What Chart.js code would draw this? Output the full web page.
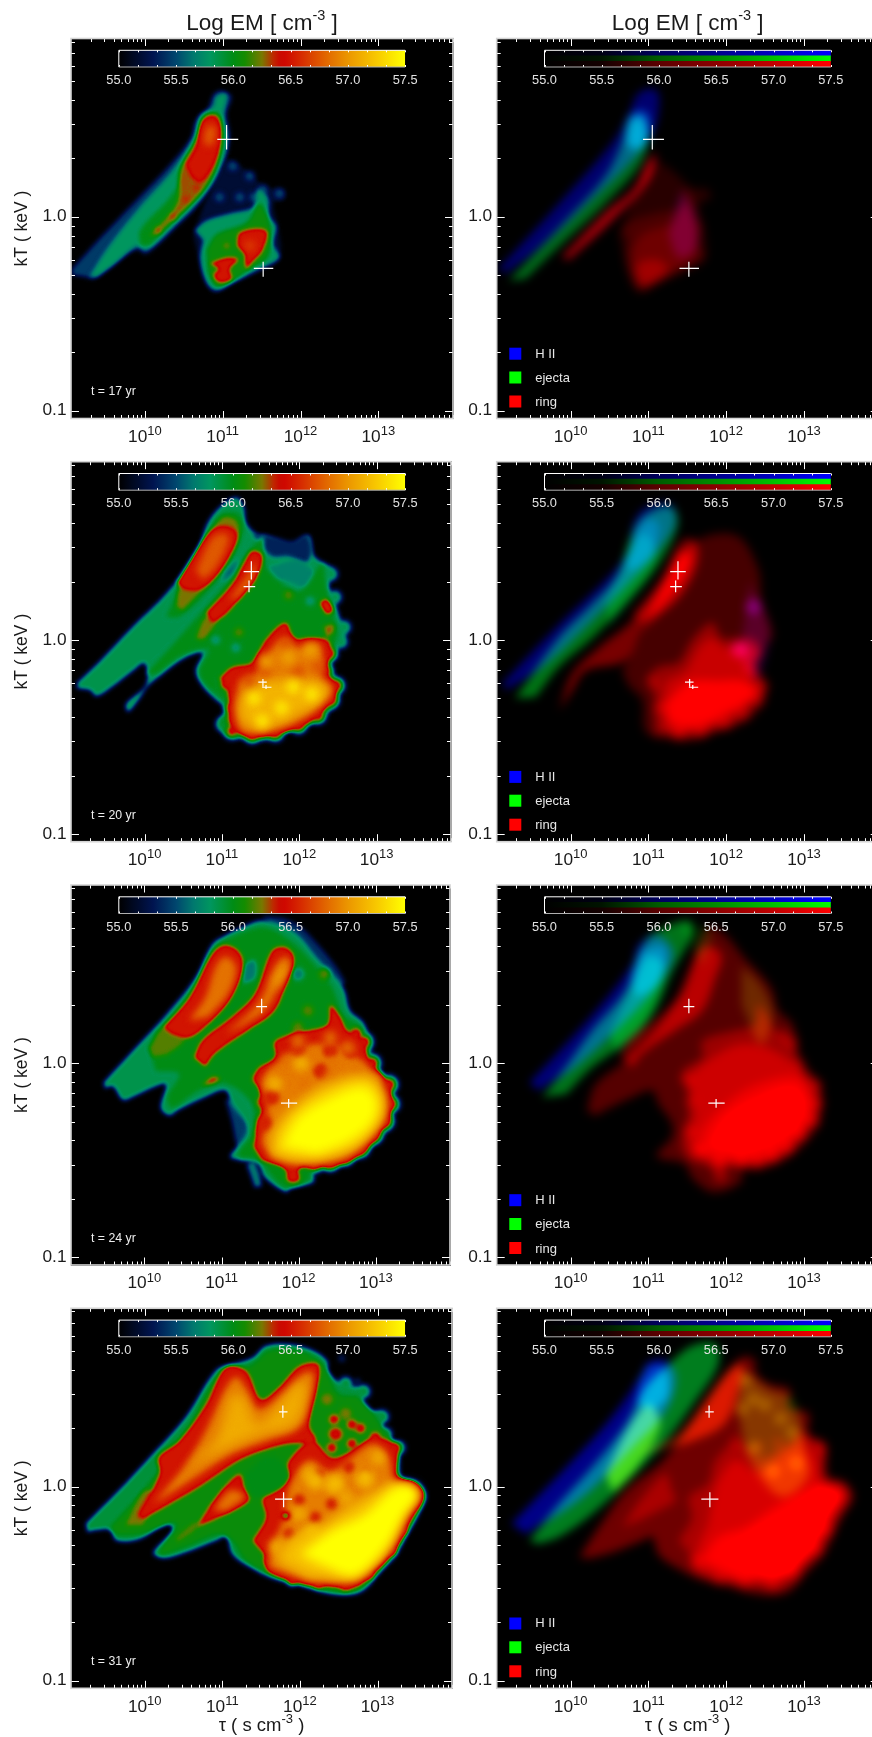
<!DOCTYPE html>
<html><head><meta charset="utf-8">
<style>html,body{margin:0;padding:0;background:#fff;overflow:hidden;width:872px;height:1737px}canvas{position:absolute}</style>
<script src="https://cdn.jsdelivr.net/npm/chart.js@4"></script>
</head><body>
<script>
// ---- axis data ----
const tauRangeExp=[9.05,13.96], kTRangeExp=[-1.04,0.9186];
const tauMajorExp=[10,11,12,13];
const kTMajor=[[0.1,'0.1'],[1,'1.0']];
const cbTicks=[55,55.5,56,56.5,57,57.5];
const cbRange=[55,57.5];
const titleParts=['Log EM [ cm','-3',' ]'];
const xTitleParts=['τ ( s cm','-3',' )'];
const yTitle='kT ( keV )';
const timeLabels=['t = 17 yr','t = 20 yr','t = 24 yr','t = 31 yr'];
const legendNames=['H II','ejecta','ring'];
const legendColors=['#0000ff','#00ff00','#ff0000'];
const emStops=[[55,0,0,0],[55.3,0,20,80],[55.5,0,70,110],[55.65,0,120,110],[55.8,0,150,95],[56,0,140,20],[56.1,20,140,0],[56.25,120,120,0],[56.35,190,40,0],[56.42,205,0,0],[56.6,215,45,0],[56.8,225,100,0],[57,235,150,0],[57.25,248,200,0],[57.5,255,255,0]];
const chanStops=[[55,0],[55.5,.08],[56,.36],[56.5,.55],[57,.76],[57.5,1]];

// ---- crosses: [tau centre, tau low, tau high, kT centre, kT low, kT high] (log10) ----
const crossA=[[11.05,10.93,11.20,.399,.347,.473],[11.52,11.40,11.65,-.266,-.309,-.232]];
const crossB=[[11.38,11.28,11.48,.352,.311,.405],[11.35,11.28,11.43,.275,.246,.306],[11.53,11.47,11.58,-.218,-.241,-.201],[11.57,11.52,11.64,-.244,-.253,-.232]];
const crossC=[[11.52,11.45,11.59,.292,.258,.332],[11.87,11.77,11.98,-.206,-.230,-.184]];
const crossD=[[11.78,11.73,11.84,.385,.354,.418],[11.79,11.68,11.90,-.065,-.107,-.029]];

// ---- 17 yr contours (log10 tau, log10 kT) ----
const A_sil=[[9.06,-.27],[9.42,-.11],[9.85,.07],[10.28,.25],[10.58,.40],[10.66,.50],[10.81,.56],[10.88,.63],[10.98,.65],[11.11,.62],[11.05,.53],[11.09,.43],[11.05,.31],[10.92,.19],[10.71,.07],[10.41,-.05],[10.02,-.19],[9.89,-.17],[9.55,-.26],[9.34,-.32],[9.21,-.31],[9.06,-.30]];
const A_teal=[[9.29,-.31],[9.51,-.17],[9.94,.05],[10.36,.24],[10.62,.40],[10.71,.52],[10.88,.57],[10.92,.62],[11.05,.63],[11.01,.52],[11.06,.40],[11.00,.29],[10.88,.18],[10.66,.07],[10.36,-.05],[10.02,-.17],[9.90,-.15],[9.59,-.25],[9.38,-.31]];
const A_green=[[9.94,-.15],[9.94,-.07],[10.32,.10],[10.60,.29],[10.68,.43],[10.75,.52],[10.96,.53],[11.01,.40],[10.96,.29],[10.79,.15],[10.49,.02],[10.06,-.15]];
const A_olive=[[10.06,-.10],[10.41,.07],[10.45,.24],[10.66,.40],[10.79,.52],[10.94,.52],[10.98,.40],[10.92,.27],[10.75,.14],[10.49,.03],[10.15,-.09]];
const A_red=[[10.53,.27],[10.66,.36],[10.75,.50],[10.92,.51],[10.97,.40],[10.88,.27],[10.71,.18],[10.60,.21]];
const A_orange=[[10.75,.40],[10.81,.47],[10.91,.46],[10.88,.38],[10.79,.36]];
const A_knots=[[10.36,.00],[10.53,.09],[10.17,-.07],[10.66,.15]];
const A_cloud0=[[10.79,.09],[11.05,.29],[11.30,.24],[11.56,.15],[11.77,.14],[11.79,.09],[11.65,.07],[11.71,-.05],[11.73,-.21],[11.52,-.27],[11.13,-.34],[10.88,-.39],[10.75,-.29],[10.62,-.09]];
const A_wisps=[[11.13,.26],[11.35,.21],[11.52,.14],[10.96,.10],[11.22,.10],[11.73,.12],[11.40,.10]];
const A_cloud1=[[10.64,-.07],[10.79,-.02],[11.13,.02],[11.39,.05],[11.45,.14],[11.58,.10],[11.60,0],[11.69,-.05],[11.65,-.14],[11.73,-.21],[11.47,-.27],[11.13,-.34],[10.92,-.38],[10.79,-.34],[10.71,-.22],[10.75,-.12]];
const A_cloud2=[[10.79,-.17],[10.92,-.09],[11.30,-.03],[11.47,.07],[11.56,.02],[11.62,-.07],[11.58,-.21],[11.35,-.27],[11.13,-.33],[10.92,-.36],[10.81,-.29]];
const A_cred1=[[11.18,-.15],[11.22,-.08],[11.56,-.07],[11.52,-.17],[11.37,-.24],[11.30,-.27],[11.28,-.19]];
const A_cred2=[[10.83,-.24],[11.05,-.21],[11.20,-.22],[11.09,-.27],[11.12,-.32],[10.96,-.34],[10.88,-.30],[10.96,-.27]];
const A_core=[[11.35,-.15]];
const A_spot=[[11.05,-.15]];
const RA_hii=[[9.07,-.27],[9.85,.07],[10.53,.38],[10.75,.53],[10.88,.64],[11.11,.65],[11.13,.53],[11.05,.43],[10.79,.29],[10.28,.09],[9.64,-.15],[9.17,-.29]];
const RA_hii2=[[10.75,.52],[10.88,.55],[11.00,.53],[11.02,.42],[10.9,.35],[10.72,.37]];
const RA_ej=[[9.21,-.33],[9.42,-.24],[9.94,-.02],[10.45,.21],[10.66,.38],[10.75,.50],[10.92,.52],[11.00,.40],[10.88,.26],[10.45,.07],[9.94,-.12],[9.42,-.32]];
const RA_ej2=[[10.71,.43],[10.88,.50],[10.96,.41],[10.79,.29]];
const RA_strip=[[9.89,-.21],[10.45,.02],[10.83,.15],[11.01,.29],[11.09,.33],[11.00,.19],[10.53,-.02],[9.98,-.22]];
const RA_low=[[10.9,-.36],[10.85,-.25],[11.1,-.22],[11.25,-.27],[11.1,-.33]];
const RA_mag=[[11.43,.14],[11.60,0],[11.60,-.17],[11.39,-.21],[11.26,-.09]];

// ---- 20 yr contours ----
const B_sil=[[9.13,-.22],[9.42,-.11],[9.85,.07],[10.28,.24],[10.66,.44],[10.81,.60],[10.96,.68],[11.18,.735],[11.28,.69],[11.32,.60],[11.47,.54],[11.56,.54],[11.90,.49],[12.12,.54],[12.20,.43],[12.41,.37],[12.39,.27],[12.46,.20],[12.54,.10],[12.60,.03],[12.50,-.04],[12.41,-.14],[12.52,-.23],[12.48,-.33],[12.20,-.43],[11.90,-.47],[11.56,-.52],[11.22,-.51],[10.96,-.47],[10.92,-.42],[11.05,-.36],[10.92,-.31],[10.75,-.24],[10.66,-.16],[10.75,-.07],[10.66,-.07],[10.45,-.11],[10.19,-.19],[10.04,-.24],[9.94,-.30],[9.79,-.37],[9.76,-.33],[10.02,-.23],[10.00,-.12],[9.85,-.16],[9.59,-.24],[9.38,-.29],[9.29,-.26],[9.13,-.25]];
const B_navy=[[11.39,.55],[11.69,.53],[11.90,.51],[12.09,.54],[12.16,.46],[12.09,.40],[11.86,.43],[11.65,.43],[11.52,.48]];
const B_tealp=[[11.56,.37],[11.99,.41],[12.24,.31],[12.07,.27],[11.77,.31],[11.56,.29]];
const B_green=[[10.02,-.175],[10.53,.05],[11.05,.29],[11.52,.53],[11.56,.39],[11.99,.25],[12.29,.39],[12.35,.27],[12.46,.10],[12.50,.03],[12.37,-.14],[12.44,-.24],[12.41,-.33],[11.99,-.45],[11.22,-.49],[10.98,-.43],[11.09,-.35],[10.79,-.23],[10.71,-.16],[10.83,-.05],[10.53,-.07],[10.15,-.175]];
const B_ugreen=[[10.45,.27],[10.79,.53],[11.00,.65],[11.22,.65],[11.28,.56],[11.09,.39],[10.75,.22],[10.45,.12],[10.28,.12]];
const B_uolive=[[10.41,.17],[10.45,.27],[10.83,.53],[11.00,.63],[11.18,.62],[11.22,.55],[11.05,.39],[10.71,.24],[10.49,.15]];
const B_ured=[[10.41,.29],[10.79,.53],[10.92,.58],[11.11,.58],[11.20,.54],[11.13,.46],[10.88,.31],[10.71,.26],[10.53,.26]];
const B_uor=[[10.66,.36],[10.88,.53],[11.05,.55],[11.09,.51],[10.92,.37],[10.75,.31]];
const B_lolive=[[10.66,.01],[10.79,.12],[10.96,.12],[10.79,.01],[10.71,0]];
const B_lred=[[10.79,.14],[11.13,.29],[11.30,.41],[11.39,.46],[11.52,.44],[11.50,.37],[11.30,.25],[11.05,.13],[10.88,.09]];
const B_lor=[[11.09,.20],[11.35,.34],[11.44,.40],[11.40,.31],[11.20,.22]];
const B_ring1=[[10.96,-.20],[11.13,-.14],[11.39,-.115],[11.56,0],[11.82,.09],[11.94,.01],[12.12,.01],[12.37,0],[12.41,-.07],[12.35,-.16],[12.49,-.235],[12.44,-.31],[12.16,-.42],[11.86,-.47],[11.56,-.50],[11.26,-.49],[11.09,-.43],[11.09,-.33],[11.05,-.23]];
const B_ring2=[[11.22,-.21],[11.47,-.16],[11.65,-.04],[11.82,.01],[11.99,-.04],[12.24,-.02],[12.31,-.11],[12.29,-.19],[12.41,-.25],[12.33,-.31],[12.07,-.40],[11.77,-.45],[11.47,-.48],[11.26,-.47],[11.18,-.38],[11.18,-.30]];
const B_ring3=[[11.22,-.33],[11.43,-.24],[11.56,-.21],[11.90,-.21],[12.20,-.21],[12.39,-.26],[12.24,-.33],[11.99,-.38],[11.77,-.43],[11.47,-.45],[11.26,-.42]];
const B_bright=[[11.41,-.30],[11.92,-.24],[12.16,-.28],[11.77,-.35],[11.52,-.42]];
const B_mid=[[12.14,-.05],[11.56,-.11],[11.86,-.09]];
const B_dark=[[11.56,-.16],[11.99,-.16],[12.24,-.14],[11.82,-.02],[11.35,-.21]];
const B_bumps=[[11.13,-.47],[11.39,-.49],[11.69,-.48],[11.99,-.44],[12.24,-.39],[12.41,-.31],[12.48,-.235],[12.33,-.16],[12.39,-.07],[11.13,-.35],[11.05,-.23]];
const B_edge=[[12.41,.34],[12.46,.22],[12.58,.065],[12.54,-.01]];
const B_rp1=[[12.26,.19],[12.35,.21],[12.44,.15],[12.35,.13]];
const B_rp2=[[12.31,.07],[12.44,.08],[12.44,.04],[12.35,.01]];
const B_hole=[[11.05,.35],[11.20,.41],[11.13,.34],[11.00,.30]];
const B_oliveDots=[[11.22,.04],[11.86,.23]];
const B_tealDots=[[12.14,.20],[10.92,0],[11.18,-.04]];
const RB_hii=[[9.13,-.22],[9.85,.08],[10.45,.31],[10.75,.46],[10.81,.60],[10.96,.68],[11.28,.70],[11.35,.60],[11.13,.46],[10.79,.31],[10.28,.10],[9.64,-.14],[9.17,-.26]];
const RB_hii2=[[10.83,.55],[10.96,.62],[11.13,.60],[11.05,.44],[10.79,.36],[10.71,.39]];
const RB_ej=[[9.29,-.30],[9.85,.01],[10.28,.185],[10.62,.34],[10.75,.51],[10.92,.63],[11.22,.69],[11.35,.665],[11.37,.58],[11.13,.39],[10.71,.185],[10.28,.01],[9.85,-.14],[9.55,-.295]];
const RB_ej2=[[10.45,.20],[10.7,.42],[10.95,.55],[11.1,.42],[10.75,.2],[10.5,.07]];
const RB_strip=[[9.85,-.365],[10.02,-.175],[10.36,-.04],[10.79,.10],[11.22,.34],[11.43,.51],[11.60,.51],[11.62,.39],[11.39,.22],[10.96,.065],[10.71,-.105],[10.19,-.16],[10.02,-.26]];
const RB_cloud=[[10.66,-.16],[10.88,0],[11.13,.22],[11.56,.495],[12.12,.54],[12.41,.37],[12.46,.20],[12.60,.03],[12.50,-.04],[12.41,-.14],[12.52,-.23],[12.48,-.33],[12.20,-.43],[11.90,-.47],[11.56,-.52],[11.22,-.51],[10.96,-.47],[10.92,-.31],[10.75,-.24]];
const RB_magSpots=[[12.35,.17],[12.16,-.05]];
const RB_mag=[[12.3,.3],[12.55,.05],[12.4,-.2],[12.2,-.1],[12.25,.15]];

// ---- 24 yr contours ----
const C_sil=[[9.47,-.10],[9.85,.065],[10.28,.25],[10.66,.44],[10.88,.615],[11.05,.66],[11.26,.70],[11.52,.735],[11.77,.71],[11.99,.66],[12.24,.54],[12.46,.45],[12.59,.38],[12.67,.27],[12.84,.21],[12.91,.12],[12.97,.01],[13.21,-.11],[13.23,-.24],[13.18,-.33],[12.80,-.485],[12.41,-.55],[12.20,-.55],[12.20,-.61],[12.07,-.63],[11.90,-.64],[11.84,-.665],[11.56,-.59],[11.47,-.52],[11.22,-.50],[11.11,-.48],[11.30,-.38],[11.30,-.31],[11.13,-.21],[11.05,-.14],[10.79,-.175],[10.45,-.24],[10.32,-.27],[10.21,-.23],[10.28,-.11],[10.15,-.12],[9.85,-.175],[9.72,-.19],[9.59,-.12],[9.49,-.13]];
const C_navy1=[[11.05,-.19],[11.13,-.19],[11.30,-.31],[11.32,-.41],[11.22,-.44],[11.13,-.30]];
const C_navy2=[[11.52,.76],[11.86,.74],[12.12,.67],[12.60,.42],[12.40,.40],[11.80,.65]];
const C_tendril=[[11.32,-.52],[11.43,-.51],[11.52,-.63],[11.43,-.64]];
const C_green=[[10.06,.08],[10.62,.375],[10.92,.60],[11.22,.665],[11.56,.70],[11.90,.63],[12.20,.51],[12.41,.41],[12.59,.25],[12.80,.185],[12.84,.065],[13.14,-.105],[13.16,-.28],[12.80,-.47],[12.20,-.52],[12.12,-.605],[11.82,-.64],[11.47,-.50],[11.22,-.475],[11.39,-.36],[11.39,-.21],[11.05,-.105],[10.71,-.14],[10.36,-.23],[10.30,-.175],[10.45,-.055],[10.15,-.04]];
const C_gap=[[11.30,.51],[11.43,.53],[11.43,.44],[11.28,.41]];
const C_tealDot=[[11.99,.46]];
const C_u_olive=[[10.06,.08],[10.24,.185],[10.53,.13],[10.32,.05],[10.11,.03]];
const C_ured=[[10.24,.185],[10.58,.34],[10.88,.565],[11.05,.61],[11.24,.57],[11.28,.495],[11.13,.34],[10.88,.22],[10.58,.13],[10.36,.15]];
const C_uor=[[10.58,.22],[10.79,.34],[10.92,.495],[11.05,.55],[11.19,.495],[11.09,.36],[10.83,.24]];
const C_lred=[[10.64,.03],[10.75,.12],[11.13,.24],[11.43,.36],[11.65,.58],[11.82,.60],[11.94,.55],[11.86,.44],[11.69,.27],[11.35,.17],[10.92,.05],[10.79,-.02]];
const C_lor=[[11.05,.15],[11.47,.31],[11.69,.495],[11.82,.55],[11.89,.52],[11.77,.41],[11.56,.27],[11.30,.20]];
const C_lyel=[[11.67,.41],[11.82,.51],[11.87,.495],[11.73,.39]];
const C_small=[[10.75,-.115],[10.88,-.07],[10.98,-.08],[10.90,-.105]];
const C_oliveDots=[[12.33,.46],[12.12,.27],[11.99,.185]];
const C_ring1=[[11.41,-.43],[11.52,-.21],[11.45,-.04],[11.69,.03],[11.69,.115],[12.12,.17],[12.37,.20],[12.41,.30],[12.54,.24],[12.63,.17],[12.84,.115],[12.93,0],[13.18,-.12],[13.18,-.28],[13.06,-.35],[12.80,-.47],[12.46,-.53],[12.01,-.535],[12.01,-.605],[11.86,-.61],[11.82,-.545],[11.52,-.50]];
const C_ring2=[[11.52,-.41],[11.60,-.21],[11.52,-.09],[11.77,.015],[12.24,.10],[12.76,.03],[13.10,-.14],[13.12,-.28],[12.97,-.36],[12.67,-.47],[12.37,-.51],[11.94,-.52],[11.65,-.485]];
const C_ring3=[[11.65,-.47],[11.69,-.35],[11.99,-.21],[12.41,-.105],[12.93,-.07],[13.10,-.19],[13.03,-.31],[12.76,-.43],[12.33,-.49],[11.94,-.50]];
const C_ring4=[[11.77,-.43],[11.99,-.28],[12.41,-.175],[12.84,-.12],[13.01,-.19],[12.97,-.295],[12.67,-.40],[12.24,-.47]];
const C_redDots=[[11.99,.065],[12.41,.065],[12.67,.065],[12.29,-.04],[11.65,-.175],[11.56,-.31]];
const C_yelDots=[[12.03,0],[11.69,-.105]];
const C_orDots=[[11.86,.015],[12.16,.03],[12.46,0],[12.76,-.04],[11.73,-.07],[12.07,-.105],[12.41,-.07],[12.97,-.09],[12.41,.13],[12.63,.08],[11.99,.115]];
const C_bumps=[[13.17,-.11],[13.19,-.21],[13.12,-.30],[12.97,-.37],[12.80,-.44],[12.60,-.48],[12.41,-.51],[12.2,-.52],[12.95,.0],[12.85,.11],[12.74,.15],[11.9,-.52],[11.62,-.45],[11.52,-.35],[11.54,-.2],[11.48,-.08]];
const RC_hii=[[9.47,-.10],[10.28,.25],[10.79,.51],[10.88,.615],[11.13,.66],[11.32,.565],[11.13,.41],[10.71,.22],[10.06,-.02],[9.59,-.14]];
const RC_hii2=[[10.9,.58],[11.2,.6],[11.15,.42],[10.85,.35],[10.78,.45]];
const RC_ej=[[9.64,-.175],[9.94,-.02],[10.28,.17],[10.71,.375],[10.88,.565],[11.05,.665],[11.52,.735],[11.56,.665],[11.32,.48],[11.05,.25],[10.62,.08],[10.28,-.02],[9.94,-.16]];
const RC_ej2=[[10.5,.15],[10.8,.40],[11.0,.55],[11.2,.5],[10.95,.2],[10.6,.05]];
const RC_ring=[[10.21,-.245],[10.32,-.11],[10.71,.015],[11.22,.24],[11.52,.48],[11.77,.70],[11.99,.66],[12.24,.54],[12.46,.45],[12.59,.38],[12.67,.27],[12.84,.21],[12.91,.12],[12.97,.01],[13.21,-.11],[13.23,-.24],[13.18,-.33],[12.80,-.485],[12.41,-.55],[12.20,-.55],[12.20,-.61],[11.84,-.665],[11.56,-.59],[11.47,-.52],[11.11,-.48],[11.30,-.38],[11.30,-.31],[11.13,-.21],[11.05,-.14],[10.79,-.175],[10.45,-.24],[10.32,-.27]];
const RC_olive=[[12.2,.5],[12.45,.4],[12.6,.25],[12.45,.1],[12.2,.3]];
const RC_top=[[11.4,.72],[11.8,.68],[11.7,.5]];

// ---- 31 yr contours ----
const D_sil=[[9.24,-.19],[9.64,-.03],[10.06,.15],[10.53,.36],[10.92,.60],[11.13,.63],[11.39,.665],[11.56,.725],[11.82,.735],[12.12,.71],[12.35,.65],[12.37,.59],[12.54,.53],[12.82,.50],[12.80,.41],[13.06,.375],[13.06,.27],[13.27,.22],[13.31,.05],[13.53,.02],[13.63,-.055],[13.48,-.16],[13.25,-.35],[13.06,-.43],[12.78,-.545],[12.41,-.555],[11.99,-.51],[11.65,-.475],[11.35,-.415],[11.13,-.35],[11.05,-.26],[10.92,-.28],[10.53,-.34],[10.24,-.37],[10.11,-.34],[10.36,-.225],[10.28,-.19],[9.94,-.27],[9.64,-.28],[9.55,-.225],[9.38,-.225],[9.26,-.235]];
const D_green=[[9.55,-.21],[10.02,0],[10.53,.27],[10.92,.55],[11.39,.63],[11.60,.70],[11.99,.70],[12.29,.63],[12.50,.48],[12.76,.46],[13.01,.34],[13.23,.20],[13.27,.05],[13.59,-.055],[13.23,-.33],[12.76,-.53],[12.41,-.54],[11.69,-.46],[11.30,-.38],[11.13,-.28],[10.96,-.245],[10.53,-.31],[10.19,-.345],[10.41,-.19],[9.94,-.245],[9.64,-.25]];
const D_olive=[[9.75,-.2],[10.0,-.02],[10.15,-.05],[9.98,-.2]];
const D_tail=[[10.41,-.26],[10.66,-.18],[10.66,-.22],[10.41,-.29]];
const D_v1=[[9.91,-.15],[10.19,.065],[10.17,.15],[10.45,.24],[10.79,.425],[11.00,.60],[11.13,.625],[11.32,.59],[11.50,.45],[11.73,.51],[11.99,.62],[12.24,.63],[12.22,.51],[12.12,.32],[12.20,.235],[11.86,.22],[11.52,.185],[11.22,.135],[10.71,0],[10.15,-.13],[9.98,-.165]];
const D_v2=[[10.11,-.09],[10.53,.115],[10.79,.29],[11.05,.51],[11.18,.565],[11.30,.51],[11.47,.40],[11.82,.495],[12.07,.59],[12.18,.58],[12.12,.44],[11.99,.305],[11.56,.235],[11.13,.17],[10.66,.05]];
const D_v3=[[10.53,.10],[10.92,.235],[11.13,.47],[11.26,.46],[11.47,.32],[11.99,.54],[12.08,.51],[11.94,.33],[11.47,.27],[11.05,.20]];
const D_blob1=[[10.66,-.21],[10.92,-.055],[11.22,.065],[11.30,-.02],[11.35,-.07],[11.13,-.125],[10.88,-.175]];
const D_blob2=[[10.88,-.125],[11.09,-.02],[11.28,-.04],[11.26,-.07],[11.05,-.125]];
const D_ring1=[[11.39,-.28],[11.56,-.16],[11.52,-.055],[11.77,.015],[11.86,.135],[12.16,.235],[12.41,.15],[12.67,.185],[12.97,.255],[13.25,.20],[13.25,.05],[13.48,.02],[13.59,-.045],[13.44,-.16],[13.23,-.32],[13.01,-.415],[12.71,-.52],[12.37,-.51],[12.05,-.50],[11.60,-.44],[11.54,-.35]];
const D_ring2=[[11.60,-.415],[11.65,-.295],[11.77,-.19],[11.82,-.07],[11.90,.03],[12.12,.135],[12.41,.08],[12.93,.22],[13.14,.15],[13.23,.015],[13.48,-.04],[13.35,-.16],[13.14,-.33],[12.93,-.415],[12.67,-.485],[12.12,-.485]];
const D_ring3=[[11.69,-.38],[11.90,-.26],[12.24,-.21],[12.63,-.105],[13.10,0],[13.27,.015],[13.50,-.04],[13.35,-.14],[13.14,-.315],[12.88,-.43],[12.67,-.475],[12.12,-.47]];
const D_ring4=[[11.99,-.35],[12.41,-.225],[12.84,-.14],[13.23,0],[13.44,.005],[13.53,-.045],[13.35,-.14],[13.14,-.295],[12.88,-.415],[12.67,-.465],[12.33,-.415]];
const D_hole=[[11.52,.15],[11.69,.15],[11.86,.065],[11.77,0],[11.47,-.055],[11.35,-.02],[11.30,.065]];
const D_redDots=[[12.44,.345],[12.67,.32],[12.78,.30],[12.63,.09]];
const D_mottleRed=[[12.24,.065],[12.63,.10],[11.99,-.07],[12.41,-.09],[12.84,.065],[12.20,-.16],[11.86,-.245]];
const D_mottleYel=[[12.12,.065],[12.41,.005],[12.84,.03],[12.59,-.055],[13.01,.15],[11.99,-.14],[12.16,-.245],[11.69,-.31]];
const D_bumps=[[11.60,-.38],[11.90,-.485],[12.24,-.50],[12.59,-.51],[12.88,-.45],[13.18,-.33],[13.31,-.225],[13.23,.20],[12.97,.255],[12.67,.22],[12.41,.20],[12.12,.235]];
const D_edge=[[12.59,.53],[12.82,.49],[13.06,.36],[13.10,.27],[13.27,.20]];
const D_oliveDots=[[12.35,.45],[12.59,.375]];
const D_warmDot=[[12.46,.27]];
const D_navyDots=[[12.93,.30],[12.54,.66],[12.74,.54]];
const D_yelDots=[[12.16,-.245],[12.46,.015],[12.20,.03],[12.84,.05]];
const D_greenDot=[[11.82,-.15]];
const RD_hii=[[9.24,-.19],[10.06,.15],[10.53,.36],[10.92,.58],[11.00,.64],[11.22,.65],[11.35,.56],[11.22,.39],[10.79,.20],[10.15,-.055],[9.42,-.245]];
const RD_hii2=[[10.88,.55],[11.0,.62],[11.2,.62],[11.25,.47],[11.05,.40],[10.85,.43]];
const RD_ej=[[9.47,-.28],[9.85,-.09],[10.28,.10],[10.71,.32],[10.96,.51],[11.22,.615],[11.56,.725],[11.86,.735],[11.90,.63],[11.60,.44],[11.22,.235],[10.79,.05],[10.28,-.14],[9.85,-.26],[9.59,-.295]];
const RD_ej2=[[10.45,.06],[10.75,.30],[11.0,.42],[11.15,.32],[10.85,.10],[10.55,-.03]];
const RD_ring=[[10.11,-.365],[10.36,-.21],[10.71,-.02],[11.22,.15],[11.82,.48],[12.20,.665],[12.37,.65],[12.37,.59],[12.54,.53],[12.82,.50],[12.80,.41],[13.06,.375],[13.06,.27],[13.27,.22],[13.31,.05],[13.53,.02],[13.63,-.055],[13.48,-.16],[13.25,-.35],[13.06,-.43],[12.78,-.545],[12.41,-.555],[11.99,-.51],[11.65,-.475],[11.35,-.415],[11.13,-.35],[11.05,-.26],[10.92,-.28],[10.53,-.34],[10.24,-.37]];
const RD_arm=[[10.88,.17],[11.39,.27],[11.99,.58],[12.20,.63],[12.12,.44],[11.94,.31],[11.47,.22]];
const RD_olive=[[12.2,.6],[12.55,.5],[12.85,.45],[13.0,.2],[13.05,.05],[12.7,-.05],[12.3,.15],[12.15,.4]];
const RD_oliveDots=[[12.25,.55],[12.35,.45],[12.5,.42],[12.7,.35],[12.85,.28],[12.9,.12],[12.6,.08],[12.35,.2],[12.2,.4]];

// ---- draw order of levels per panel: [contour, Log EM] or [knots, Log EM, size] ----
const emLayers=[
[[A_sil,55.45],[A_cloud0,55.2],[A_wisps,55.5,5],[A_teal,55.8],[A_cloud1,55.8],[A_green,56],[A_cloud2,56.05],[A_olive,56.3],[A_knots,56.38,3],[A_red,56.5],[A_orange,56.75],[A_cred1,56.5],[A_cred2,56.5],[A_core,56.72,5],[A_spot,56.3,3]],
[[B_sil,55.85],[B_edge,55.85,7],[B_navy,55.35],[B_tealp,55.7],[B_green,56],[B_ugreen,56],[B_uolive,56.25],[B_ured,56.5],[B_uor,56.75],[B_lolive,56.25],[B_lred,56.5],[B_lor,56.85],[B_hole,55.55],[B_rp2,56.3],[B_rp1,56.55],[B_oliveDots,56.2,5],[B_tealDots,55.7,4],[B_bumps,55.95,9],[B_bumps,56.5,5],[B_ring1,56.5],[B_ring2,56.9],[B_ring3,57.15],[B_dark,56.7,6],[B_mid,57.05,7],[B_bright,57.4,7]],
[[C_navy2,55.4],[C_navy1,55.45],[C_tendril,55.65],[C_sil,55.85],[C_bumps,55.85,10],[C_green,56],[C_gap,55.65],[C_tealDot,55.65,6],[C_oliveDots,56.2,6],[C_u_olive,56.2],[C_ured,56.5],[C_uor,56.85],[C_lred,56.5],[C_lor,56.85],[C_lyel,57.15],[C_small,56.4],[C_bumps,56.5,6],[C_ring1,56.5],[C_ring2,56.9],[C_redDots,56.55,8],[C_orDots,56.85,7],[C_yelDots,57.15,7],[C_ring3,57.25],[C_ring4,57.7]],
[[D_sil,55.9],[D_edge,55.9,7],[D_navyDots,55.45,3],[D_green,56.05],[D_olive,56.25],[D_tail,56.2],[D_oliveDots,56.25,6],[D_redDots,56.5,5],[D_warmDot,56.45,7],[D_v1,56.5],[D_v2,56.9],[D_v3,57.1],[D_blob1,56.47],[D_blob2,56.85],[D_bumps,56.5,5],[D_ring1,56.5],[D_ring2,56.9],[D_mottleRed,56.55,6],[D_mottleYel,57.1,7],[D_yelDots,57.2,8],[D_ring3,57.2],[D_ring4,57.7],[D_hole,56],[D_greenDot,56,4]]
];
const rgbLayers=[
[[RA_hii,'0,0,110'],[RA_hii2,'0,50,70'],[RA_ej,'0,105,25'],[RA_ej2,'0,15,10'],[RA_strip,'170,0,10'],[A_cloud0,'40,0,0'],[A_cloud1,'35,0,0'],[A_cloud2,'35,0,0'],[RA_low,'50,0,0'],[RA_mag,'20,0,50']],
[[RB_hii,'0,0,115'],[RB_hii2,'0,20,50'],[RB_ej,'0,115,20'],[RB_ej2,'0,30,15'],[RB_strip,'120,0,0'],[B_lred,'70,0,0'],[RB_cloud,'70,0,0'],[B_bumps,'35,0,0',7],[B_ring1,'80,0,0'],[B_ring2,'50,0,0'],[B_ring3,'55,0,0'],[RB_mag,'20,0,40'],[RB_magSpots,'40,0,70',8]],
[[RC_hii,'0,0,120'],[RC_hii2,'0,30,50'],[RC_ej,'0,115,25'],[RC_ej2,'0,45,15'],[RC_top,'0,30,0'],[RC_ring,'85,0,0'],[C_bumps,'35,0,0',7],[C_lred,'100,0,0'],[C_ring1,'70,0,0'],[C_ring2,'50,0,0'],[C_ring3,'35,0,0'],[C_ring4,'30,0,0'],[RC_olive,'25,40,0']],
[[RD_hii,'0,0,135'],[RD_hii2,'0,50,60'],[RD_ej,'0,125,30'],[RD_ej2,'70,90,0'],[RD_ring,'110,0,0'],[RD_arm,'110,25,0'],[D_blob1,'60,0,0'],[D_bumps,'30,0,0',7],[D_ring1,'60,0,0'],[D_ring2,'45,0,0'],[D_ring3,'40,0,0'],[D_ring4,'25,0,0'],[RD_olive,'25,55,0'],[RD_oliveDots,'30,35,0',7]]
];
const crosses=[crossA,crossB,crossC,crossD];

// ---- layout of the page ----
const W=872,plotW=382,plotH=380;
const plotTops=[38.5,461.7,885,1308.3];
const plotLefts=[71,496.7];
const FONT='"Liberation Sans",Arial,sans-serif';
Chart.defaults.font.family=FONT;
Chart.defaults.animation=false;

const lerpStops=(s,v)=>{ if(v<=s[0][0])return s[0].slice(1);
  for(let i=1;i<s.length;i++) if(v<=s[i][0]){const t=(v-s[i-1][0])/(s[i][0]-s[i-1][0]);return s[i].slice(1).map((c,k)=>s[i-1][k+1]+(c-s[i-1][k+1])*t);}
  return s[s.length-1].slice(1);};
const LUT=[];for(let i=0;i<256;i++)LUT.push(lerpStops(emStops,55+i/255*2.5));
const lvl=L=>{const v=Math.min(255,Math.round((L-55)/2.5*255));return `rgb(${v},${v},${v})`;};
const pts=p=>p.map(([a,b])=>({x:10**a,y:10**b}));
const emBlur=(L,size)=>size?(L<56.6?2.5:4.5):(L<56.6?2:L<57?3.5:5.5);

function sup(ctx,parts,cx,base,size,supSize,rise){
  const f=`${size}px ${FONT}`,fs=`${supSize}px ${FONT}`;
  ctx.font=f;const w0=ctx.measureText(parts[0]).width,w2=ctx.measureText(parts[2]).width;
  ctx.font=fs;const w1=ctx.measureText(parts[1]).width;
  let x=cx-(w0+w1+w2)/2;ctx.textAlign='left';ctx.textBaseline='alphabetic';
  ctx.font=f;ctx.fillText(parts[0],x,base);x+=w0;
  ctx.font=fs;ctx.fillText(parts[1],x,base-rise);x+=w1;
  ctx.font=f;if(parts[2])ctx.fillText(parts[2],x,base);
}

const fieldPlugin={id:'field',
  beforeDatasetsDraw(chart){const c=chart.ctx,a=chart.chartArea,o=chart.options.plugins.field;
    c.save();c.fillStyle='#000';c.fillRect(a.left,a.top,a.width,a.height);
    c.filter=`blur(${chart.data.datasets[0].blurPx}px)`;c.globalCompositeOperation=o.mode==='rgb'?'lighter':'source-over';chart.$done=false;},
  beforeDatasetDraw(chart,args){const ds=chart.data.datasets[args.index];
    if(ds.marker&&!chart.$done){chart.$done=true;const c=chart.ctx,a=chart.chartArea,o=chart.options.plugins.field;
      c.filter='none';c.globalCompositeOperation='source-over';
      if(o.mode==='em'){const l=Math.floor(a.left),t=Math.floor(a.top),w=Math.ceil(a.width)+1,h=Math.ceil(a.height)+1;
        const im=c.getImageData(l,t,w,h),d=im.data;
        for(let i=0;i<d.length;i+=4){const m=LUT[d[i]];d[i]=m[0];d[i+1]=m[1];d[i+2]=m[2];d[i+3]=255;}
        c.putImageData(im,l,t);}
    }},
  afterDatasetDraw(chart,args){const next=chart.data.datasets[args.index+1];
    chart.ctx.filter=next&&next.blurPx?`blur(${next.blurPx}px)`:'none';},
  afterDatasetsDraw(chart){chart.ctx.restore();}
};

const framePlugin={id:'frame',afterDraw(chart){
  const c=chart.ctx,a=chart.chartArea,o=chart.options.plugins.frame,xs=chart.scales.x,ys=chart.scales.y;
  c.save();
  c.strokeStyle='#fff';c.lineWidth=1;c.beginPath();
  for(let e=9;e<=13;e++)for(let m=1;m<=9;m++){const v=m*10**e;if(v<xs.min||v>xs.max)continue;
    const p=Math.round(xs.getPixelForValue(v))+.5,L=m===1?7.5:3.5;
    c.moveTo(p,a.bottom);c.lineTo(p,a.bottom-L);c.moveTo(p,a.top);c.lineTo(p,a.top+L);}
  for(let e=-2;e<=0;e++)for(let m=1;m<=9;m++){const v=m*10**e;if(v<ys.min||v>ys.max)continue;
    const p=Math.round(ys.getPixelForValue(v))+.5,L=m===1?8:4;
    c.moveTo(a.left,p);c.lineTo(a.left+L,p);c.moveTo(a.right,p);c.lineTo(a.right-L,p);}
  c.stroke();
  c.strokeStyle='#d4d4d4';c.lineWidth=1.6;c.strokeRect(a.left,a.top,a.width,a.height);
  // tick labels
  c.fillStyle='#1a1a1a';c.textBaseline='middle';c.textAlign='right';c.font=`17.3px ${FONT}`;
  kTMajor.forEach(([v,t])=>c.fillText(t,a.left-4.5,ys.getPixelForValue(v)));
  tauMajorExp.forEach(e=>{const p=xs.getPixelForValue(10**e);sup(c,['10',String(e),''],p,a.bottom+23.3,17.3,13,6.7);});
  // panel titles
  if(o.row===0)sup(c,titleParts,(a.left+a.right)/2,30,22.5,14.5,10);
  if(o.row===3)sup(c,xTitleParts,(a.left+a.right)/2,a.bottom+43,18.5,13,8);
  if(o.col===0){c.save();c.translate(22,(a.top+a.bottom)/2);c.rotate(-Math.PI/2);c.textAlign='center';c.textBaseline='middle';c.font=`17.5px ${FONT}`;c.fillText(yTitle,0,0);c.restore();
    c.fillStyle='#eee';c.font=`12.3px ${FONT}`;c.textAlign='left';c.textBaseline='alphabetic';c.fillText(timeLabels[o.row],a.left+20,a.top+356.8);}
  else{const base=[319,343,367.5],box=[309.2,333,357];
    legendNames.forEach((n,i)=>{c.fillStyle=legendColors[i];c.fillRect(a.left+12.6,a.top+box[i],12,12);
      c.fillStyle='#e6e6e6';c.font=`13px ${FONT}`;c.textAlign='left';c.textBaseline='alphabetic';c.fillText(n,a.left+38.5,a.top+base[i]);});}
  c.restore();
}};

function makePanel(row,col){
  const top=plotTops[row],cTop=Math.round(top)-39,cH=39+plotH+52,cL=col===0?0:460,cW=col===0?460:430;
  const cv=document.createElement('canvas');cv.width=cW;cv.height=cH;cv.style.cssText=`left:${cL}px;top:${cTop}px;width:${cW}px;height:${cH}px`;document.body.appendChild(cv);
  const left=plotLefts[col]-cL,src=col===0?emLayers[row]:rgbLayers[row];
  const n=src.length,datasets=[];
  src.forEach((lay,i)=>{const [p,v,size]=lay;const color=col===0?lvl(v):`rgb(${v})`;
    const blurPx=col===0?emBlur(v,size):(size?4:(i<4?4.5:5));
    if(size)datasets.push({blurPx,data:pts(p),showLine:false,pointRadius:size,pointBorderWidth:0,pointBackgroundColor:color,order:n-i+1});
    else datasets.push({blurPx,data:pts(p),showLine:true,fill:'shape',backgroundColor:color,borderWidth:0,pointRadius:0,tension:.35,order:n-i+1});});
  crosses[row].forEach((q,i)=>{const [xc,xl,xh,yc,yl,yh]=q;
    datasets.push({marker:true,data:pts([[xl,yc],[xh,yc]]).concat([{x:NaN,y:NaN}],pts([[xc,yl],[xc,yh]])),showLine:true,fill:false,borderColor:'#fff',borderWidth:1.2,pointRadius:0,tension:0,order:-1-i});});
  new Chart(cv,{type:'scatter',data:{datasets},plugins:[fieldPlugin,framePlugin],options:{
    responsive:false,devicePixelRatio:1,animation:false,events:[],
    layout:{padding:{left,top:top-cTop,right:cW-left-plotW,bottom:cH-(top-cTop)-plotH}},
    scales:{x:{type:'logarithmic',display:false,min:10**tauRangeExp[0],max:10**tauRangeExp[1]},
            y:{type:'logarithmic',display:false,min:10**kTRangeExp[0],max:10**kTRangeExp[1]}},
    plugins:{legend:{display:false},tooltip:{enabled:false},
      field:{mode:col===0?'em':'rgb'},frame:{row,col}}}});
  // colour bar
  const barL=plotLefts[col]+47.8,barT=top+11.8,barW=286.3,barH=16.7,bLeft=Math.floor(barL)-24,bTop=Math.floor(barT)-2,bW=Math.ceil(barW)+50,bH=44;
  const cb=document.createElement('canvas');cb.width=bW;cb.height=bH;cb.style.cssText=`left:${bLeft}px;top:${bTop}px;width:${bW}px;height:${bH}px`;document.body.appendChild(cb);
  const names=col===0?['Log EM']:legendNames;
  const chanColor=i=>v=>{const g=lerpStops(chanStops,v)[0]*255;return i===0?`rgb(0,0,${g})`:i===1?`rgb(0,${g},0)`:`rgb(${g},0,0)`;};
  const cbColor=c=>{const s=c.chart.scales.x;if(!s||!c.chart.chartArea)return 'rgba(0,0,0,0)';
    const x0=s.getPixelForValue(cbRange[0]),x1=s.getPixelForValue(cbRange[1]);if(!isFinite(x0)||!isFinite(x1))return 'rgba(0,0,0,0)';
    const g=c.chart.ctx.createLinearGradient(x0,0,x1,0);
    const fn=col===0?(v=>`rgb(${lerpStops(emStops,v).join(',')})`):chanColor(c.dataIndex);
    for(let k=0;k<=50;k++){const v=cbRange[0]+(cbRange[1]-cbRange[0])*k/50;g.addColorStop(k/50,fn(v));}return g;};
  new Chart(cb,{type:'bar',data:{labels:names,datasets:[{data:names.map(()=>cbRange),backgroundColor:cbColor,barPercentage:1,categoryPercentage:1,borderWidth:0}]},
    plugins:[{id:'cbframe',afterDraw(ch){const c=ch.ctx,a=ch.chartArea,s=ch.scales.x;c.save();
      c.strokeStyle='#fff';c.lineWidth=1;c.beginPath();
      for(let v=cbRange[0];v<=cbRange[1]+1e-6;v+=1/6){const p=Math.round(s.getPixelForValue(v))+.5;c.moveTo(p,a.top);c.lineTo(p,a.top+2);c.moveTo(p,a.bottom);c.lineTo(p,a.bottom-2);}
      c.stroke();
      c.beginPath();c.moveTo(a.left,a.bottom);c.lineTo(a.left,a.top);c.lineTo(a.right,a.top);c.stroke();
      c.strokeStyle='#b0b0b0';c.beginPath();c.moveTo(a.left,a.bottom);c.lineTo(a.right,a.bottom);c.stroke();c.restore();}}],
    options:{indexAxis:'y',responsive:false,devicePixelRatio:1,animation:false,events:[],
      layout:{padding:{left:barL-bLeft,top:barT-bTop,right:bW-(barL-bLeft)-barW,bottom:0}},
      scales:{x:{type:'linear',min:cbRange[0],max:cbRange[1],grid:{display:false,drawTicks:false},border:{display:false},
          afterBuildTicks(s){s.ticks=cbTicks.map(v=>({value:v}));},
          afterFit(s){s.height=bH-(barT-bTop)-barH;},
          ticks:{color:'#e2e2e2',font:{size:12.8},padding:6,maxRotation:0,autoSkip:false,callback:v=>Number(v).toFixed(1)}},
        y:{display:false,grid:{display:false}}},
      plugins:{legend:{display:false},tooltip:{enabled:false}}}});
}
for(let r=0;r<4;r++)for(let c=0;c<2;c++)makePanel(r,c);
</script>
</body></html>
